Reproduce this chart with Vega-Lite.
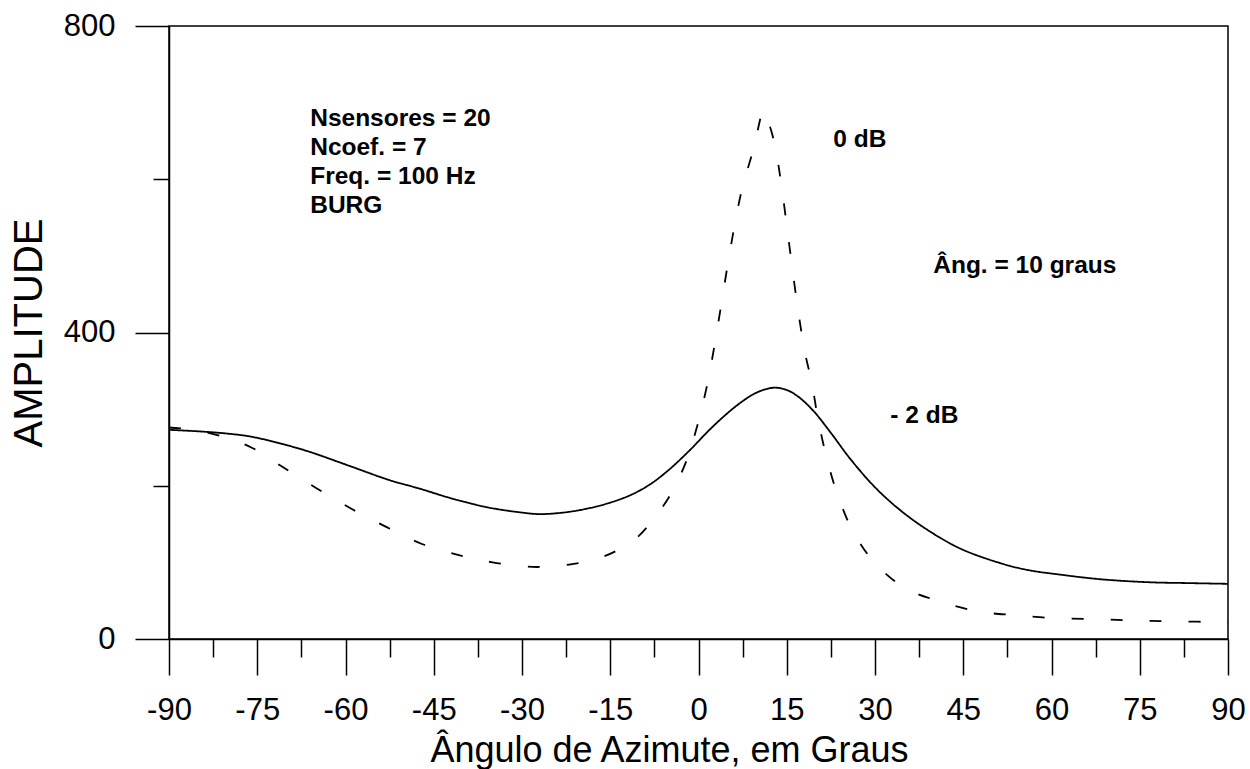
{
  "$schema": "https://vega.github.io/schema/vega-lite/v6.json",
  "width": 1059,
  "height": 613,
  "autosize": {"type": "none"},
  "padding": {"left": 169, "top": 26, "right": 22, "bottom": 130},
  "background": "white",
  "config": {
    "font": "Liberation Sans",
    "view": {"stroke": "black", "strokeWidth": 1.5},
    "axis": {
      "grid": false,
      "domainColor": "black",
      "domainWidth": 1.5,
      "tickColor": "black",
      "tickWidth": 1.5,
      "labelColor": "black",
      "labelFont": "Liberation Sans",
      "labelFontSize": 31,
      "titleColor": "black",
      "titleFont": "Liberation Sans",
      "titleFontWeight": "normal"
    }
  },
  "datasets": {
    "curves": [
      {"angle": -90, "amplitude": 273, "series": "-2 dB"},
      {"angle": -85, "amplitude": 271, "series": "-2 dB"},
      {"angle": -80, "amplitude": 268, "series": "-2 dB"},
      {"angle": -76, "amplitude": 264, "series": "-2 dB"},
      {"angle": -70, "amplitude": 253, "series": "-2 dB"},
      {"angle": -66, "amplitude": 244, "series": "-2 dB"},
      {"angle": -59, "amplitude": 225, "series": "-2 dB"},
      {"angle": -52.4, "amplitude": 207, "series": "-2 dB"},
      {"angle": -47.3, "amplitude": 196, "series": "-2 dB"},
      {"angle": -42.2, "amplitude": 184, "series": "-2 dB"},
      {"angle": -36, "amplitude": 172, "series": "-2 dB"},
      {"angle": -30, "amplitude": 165, "series": "-2 dB"},
      {"angle": -27, "amplitude": 163, "series": "-2 dB"},
      {"angle": -23, "amplitude": 165, "series": "-2 dB"},
      {"angle": -19, "amplitude": 170, "series": "-2 dB"},
      {"angle": -15, "amplitude": 178, "series": "-2 dB"},
      {"angle": -11.5, "amplitude": 188, "series": "-2 dB"},
      {"angle": -8.2, "amplitude": 202, "series": "-2 dB"},
      {"angle": -5, "amplitude": 221, "series": "-2 dB"},
      {"angle": -1.4, "amplitude": 247, "series": "-2 dB"},
      {"angle": 2, "amplitude": 274, "series": "-2 dB"},
      {"angle": 5.9, "amplitude": 301, "series": "-2 dB"},
      {"angle": 9, "amplitude": 318, "series": "-2 dB"},
      {"angle": 11, "amplitude": 325, "series": "-2 dB"},
      {"angle": 13, "amplitude": 328, "series": "-2 dB"},
      {"angle": 15, "amplitude": 325, "series": "-2 dB"},
      {"angle": 17, "amplitude": 316, "series": "-2 dB"},
      {"angle": 19.5, "amplitude": 298, "series": "-2 dB"},
      {"angle": 22.5, "amplitude": 269, "series": "-2 dB"},
      {"angle": 25.8, "amplitude": 235, "series": "-2 dB"},
      {"angle": 30, "amplitude": 198, "series": "-2 dB"},
      {"angle": 34.3, "amplitude": 168, "series": "-2 dB"},
      {"angle": 39, "amplitude": 142, "series": "-2 dB"},
      {"angle": 44.5, "amplitude": 118, "series": "-2 dB"},
      {"angle": 51.3, "amplitude": 99, "series": "-2 dB"},
      {"angle": 56, "amplitude": 90, "series": "-2 dB"},
      {"angle": 61.5, "amplitude": 84, "series": "-2 dB"},
      {"angle": 68.3, "amplitude": 78, "series": "-2 dB"},
      {"angle": 76.8, "amplitude": 74, "series": "-2 dB"},
      {"angle": 83, "amplitude": 73, "series": "-2 dB"},
      {"angle": 90, "amplitude": 72, "series": "-2 dB"},

      {"angle": -90, "amplitude": 276, "series": "0 dB"},
      {"angle": -85, "amplitude": 272, "series": "0 dB"},
      {"angle": -80, "amplitude": 262, "series": "0 dB"},
      {"angle": -76, "amplitude": 250, "series": "0 dB"},
      {"angle": -71, "amplitude": 226, "series": "0 dB"},
      {"angle": -65, "amplitude": 197, "series": "0 dB"},
      {"angle": -59, "amplitude": 170, "series": "0 dB"},
      {"angle": -53, "amplitude": 146, "series": "0 dB"},
      {"angle": -47, "amplitude": 124, "series": "0 dB"},
      {"angle": -40, "amplitude": 108, "series": "0 dB"},
      {"angle": -35, "amplitude": 100, "series": "0 dB"},
      {"angle": -30, "amplitude": 95, "series": "0 dB"},
      {"angle": -27, "amplitude": 94, "series": "0 dB"},
      {"angle": -22, "amplitude": 97, "series": "0 dB"},
      {"angle": -18, "amplitude": 103, "series": "0 dB"},
      {"angle": -16, "amplitude": 108, "series": "0 dB"},
      {"angle": -13.5, "amplitude": 117, "series": "0 dB"},
      {"angle": -10.5, "amplitude": 132, "series": "0 dB"},
      {"angle": -8.3, "amplitude": 150, "series": "0 dB"},
      {"angle": -6.3, "amplitude": 170, "series": "0 dB"},
      {"angle": -4.5, "amplitude": 192, "series": "0 dB"},
      {"angle": -3, "amplitude": 215, "series": "0 dB"},
      {"angle": -1.7, "amplitude": 240, "series": "0 dB"},
      {"angle": -0.7, "amplitude": 265, "series": "0 dB"},
      {"angle": 0.2, "amplitude": 290, "series": "0 dB"},
      {"angle": 1.7, "amplitude": 340, "series": "0 dB"},
      {"angle": 3.3, "amplitude": 410, "series": "0 dB"},
      {"angle": 5, "amplitude": 490, "series": "0 dB"},
      {"angle": 6.5, "amplitude": 555, "series": "0 dB"},
      {"angle": 7.5, "amplitude": 590, "series": "0 dB"},
      {"angle": 9, "amplitude": 630, "series": "0 dB"},
      {"angle": 9.6, "amplitude": 645, "series": "0 dB"},
      {"angle": 10.3, "amplitude": 672, "series": "0 dB"},
      {"angle": 11, "amplitude": 690, "series": "0 dB"},
      {"angle": 11.6, "amplitude": 680, "series": "0 dB"},
      {"angle": 12.3, "amplitude": 665, "series": "0 dB"},
      {"angle": 13.1, "amplitude": 640, "series": "0 dB"},
      {"angle": 14.1, "amplitude": 592, "series": "0 dB"},
      {"angle": 15.5, "amplitude": 510, "series": "0 dB"},
      {"angle": 17, "amplitude": 425, "series": "0 dB"},
      {"angle": 18.2, "amplitude": 370, "series": "0 dB"},
      {"angle": 19.2, "amplitude": 337, "series": "0 dB"},
      {"angle": 20.3, "amplitude": 288, "series": "0 dB"},
      {"angle": 21.8, "amplitude": 236, "series": "0 dB"},
      {"angle": 23.7, "amplitude": 187, "series": "0 dB"},
      {"angle": 26.3, "amplitude": 140, "series": "0 dB"},
      {"angle": 29.9, "amplitude": 100, "series": "0 dB"},
      {"angle": 35, "amplitude": 67, "series": "0 dB"},
      {"angle": 41, "amplitude": 49, "series": "0 dB"},
      {"angle": 47.5, "amplitude": 36, "series": "0 dB"},
      {"angle": 54, "amplitude": 31, "series": "0 dB"},
      {"angle": 61, "amplitude": 27, "series": "0 dB"},
      {"angle": 68, "amplitude": 26, "series": "0 dB"},
      {"angle": 74.5, "amplitude": 24, "series": "0 dB"},
      {"angle": 81, "amplitude": 23, "series": "0 dB"},
      {"angle": 90, "amplitude": 22, "series": "0 dB"}
    ],
    "notes": [
      {"angle": -66, "amplitude": 670, "label": "Nsensores = 20"},
      {"angle": -66, "amplitude": 632, "label": "Ncoef. = 7"},
      {"angle": -66, "amplitude": 594, "label": "Freq. = 100 Hz"},
      {"angle": -66, "amplitude": 556, "label": "BURG"},
      {"angle": 22.9, "amplitude": 642, "label": "0 dB"},
      {"angle": 39.9, "amplitude": 478, "label": "Âng. = 10 graus"},
      {"angle": 32.6, "amplitude": 282, "label": "- 2 dB"}
    ]
  },
  "layer": [
    {
      "data": {"name": "curves"},
      "mark": {"type": "line", "interpolate": "catmull-rom", "color": "black", "strokeWidth": 1.8},
      "encoding": {
        "x": {
          "field": "angle",
          "type": "quantitative",
          "scale": {"domain": [-90, 90], "nice": false, "zero": false},
          "axis": {
            "values": [-90, -82.5, -75, -67.5, -60, -52.5, -45, -37.5, -30, -22.5, -15, -7.5, 0, 7.5, 15, 22.5, 30, 37.5, 45, 52.5, 60, 67.5, 75, 82.5, 90],
            "tickSize": {"condition": {"test": "datum.value % 15 === 0", "value": 36}, "value": 18},
            "labelExpr": "datum.value % 15 === 0 ? (datum.value < 0 ? '-' + abs(datum.value) : '' + datum.value) : ''",
            "labelPadding": 20,
            "labelFlush": false,
            "labelOverlap": false,
            "title": "Ângulo de Azimute, em Graus",
            "titleFontSize": 36,
            "titleX": 500,
            "titleY": 122,
            "titleBaseline": "alphabetic",
            "titleAnchor": "middle"
          }
        },
        "y": {
          "field": "amplitude",
          "type": "quantitative",
          "scale": {"domain": [0, 800], "nice": false},
          "axis": {
            "values": [0, 200, 400, 600, 800],
            "tickSize": {"condition": {"test": "datum.value % 400 === 0", "value": 34}, "value": 16},
            "labelExpr": "datum.value % 400 === 0 ? datum.label : ''",
            "labelPadding": 20,
            "labelFlush": false,
            "labelOverlap": false,
            "title": "AMPLITUDE",
            "titleFontSize": 40,
            "titleX": -140,
            "titleBaseline": "middle"
          }
        },
        "strokeDash": {
          "field": "series",
          "type": "nominal",
          "scale": {"domain": ["-2 dB", "0 dB"], "range": [[1, 0], [12, 27]]},
          "legend": null
        },
        "detail": {"field": "series"}
      }
    },
    {
      "data": {"name": "notes"},
      "mark": {"type": "text", "align": "left", "baseline": "alphabetic", "fontSize": 24.5, "fontWeight": "bold", "color": "black", "font": "Liberation Sans"},
      "encoding": {
        "x": {"field": "angle", "type": "quantitative"},
        "y": {"field": "amplitude", "type": "quantitative"},
        "text": {"field": "label"}
      }
    }
  ]
}
